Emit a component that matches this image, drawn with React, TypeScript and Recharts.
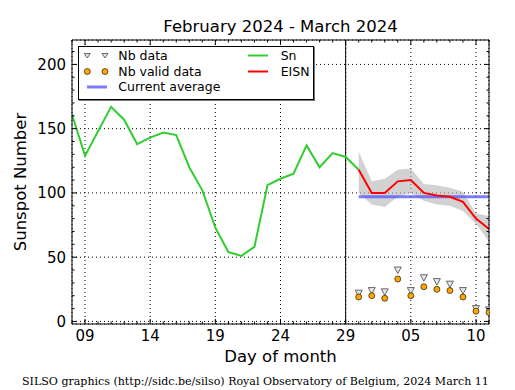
import React from 'react';
import {
  ComposedChart,
  Line,
  Area,
  Scatter,
  XAxis,
  YAxis,
  CartesianGrid,
  ReferenceLine,
} from 'recharts';

// Feb 08 .. Mar 11, one entry per day (index = position on the x axis)
const dayLabels = [
  '08', '09', '10', '11', '12', '13', '14', '15', '16', '17', '18', '19', '20', '21', '22',
  '23', '24', '25', '26', '27', '28', '29', '01', '02', '03', '04', '05', '06', '07', '08',
  '09', '10', '11',
];
const majorTicks = [1, 6, 11, 16, 21, 26, 31];
const yTicks = [0, 50, 100, 150, 200];

// daily Sn, Feb 08 .. Mar 01
const snValues = [161, 129, 148, 167, 157, 138, 143, 147, 145, 120, 102, 73, 54, 51, 58, 106, 111, 115, 137, 120, 131, 128, 118];

// estimated values, Mar 01 .. Mar 11
const eisnStart = 22;
const eisnValues = [118, 100, 100, 109, 110, 100, 98, 97, 93, 80, 72];
const eisnHigh = [132, 109, 111, 118, 119, 107, 106, 104, 101, 84, 82];
const eisnLow = [100, 91, 89, 97, 100, 94, 91, 90, 86, 76, 62];
const nbData = [22, 24, 23, 40, 24, 34, 31, 29, 24, 10, 9];
const nbValid = [19, 20, 18, 33, 20, 27, 25, 24, 19, 8, 7];
const currentAverage = 97;

const font = 'DejaVu Sans, sans-serif';

const rows = dayLabels.map((d, i) => {
  const j = i - eisnStart;
  const inEst = j >= 0 && j < eisnValues.length;
  return {
    x: i,
    day: d,
    sn: i < snValues.length ? snValues[i] : null,
    eisn: inEst ? eisnValues[j] : null,
    band: inEst ? [eisnLow[j], eisnHigh[j]] : null,
    avg: inEst ? currentAverage : null,
  };
});

const nbPoints = nbData.map((v, j) => ({ x: eisnStart + j, nb: v }));
const nbValidPoints = nbValid.map((v, j) => ({ x: eisnStart + j, nbv: v }));

const allDays = dayLabels.map((_, i) => i);
const minorY = Array.from({ length: 22 }, (_, i) => i * 10);

const Triangle = (props: any) => {
  const { cx, cy } = props;
  if (cx == null || cy == null) return null;
  return (
    <polygon
      points={`${cx - 3.5},${cy - 3} ${cx + 3.5},${cy - 3} ${cx},${cy + 3.5}`}
      fill="#e6e6e6"
      stroke="#444"
      strokeWidth={0.8}
    />
  );
};

const Dot = (props: any) => {
  const { cx, cy } = props;
  if (cx == null || cy == null) return null;
  return <circle cx={cx} cy={cy} r={3} fill="#ffa500" stroke="#000" strokeWidth={0.6} />;
};

// inward tick marks, long on the labelled values
const frameTick = (side: string, majors: number[]) => (props: any) => {
  const { x, y, payload } = props;
  const len = majors.includes(payload.value) ? 5 : 2.5;
  let x2 = x;
  let y2 = y;
  if (side === 'bottom') y2 = y - len;
  if (side === 'top') y2 = y + len;
  if (side === 'left') x2 = x + len;
  if (side === 'right') x2 = x - len;
  return <line x1={x} y1={y} x2={x2} y2={y2} stroke="#000" strokeWidth={1} />;
};

const LegendBox = () => {
  const text = (label: string, left: number, cy: number) => (
    <span
      style={{
        position: 'absolute',
        left,
        top: cy - 7.8,
        fontSize: 12.5,
        lineHeight: '16px',
        whiteSpace: 'nowrap',
      }}
    >
      {label}
    </span>
  );
  return (
    <div
      style={{
        position: 'absolute',
        left: 78,
        top: 46,
        width: 236,
        height: 54,
        boxSizing: 'border-box',
        border: '1px solid #000',
        boxShadow: '1px 1px 0 #777',
        background: '#fff',
        fontFamily: font,
        color: '#000',
      }}
    >
      <svg width={234} height={52} style={{ position: 'absolute', left: 0, top: 0 }}>
        <polygon points="5.3,6.5 11.3,6.5 8.3,11" fill="#e6e6e6" stroke="#444" strokeWidth={0.8} />
        <polygon points="23,6.5 29,6.5 26,11" fill="#e6e6e6" stroke="#444" strokeWidth={0.8} />
        <circle cx={8.3} cy={24.5} r={3} fill="#ffa500" stroke="#000" strokeWidth={0.6} />
        <circle cx={26} cy={24.5} r={3} fill="#ffa500" stroke="#000" strokeWidth={0.6} />
        <line x1={8} y1={40} x2={28} y2={40} stroke="#5a5aff" strokeOpacity={0.8} strokeWidth={3} />
        <line x1={169} y1={8.5} x2={189} y2={8.5} stroke="#33cc33" strokeWidth={2} />
        <line x1={169} y1={24.5} x2={189} y2={24.5} stroke="#ff0000" strokeWidth={2} />
      </svg>
      {text('Nb data', 39.3, 8.5)}
      {text('Nb valid data', 39.3, 24.5)}
      {text('Current average', 39.3, 40)}
      {text('Sn', 201.7, 8.5)}
      {text('EISN', 201.7, 24.5)}
    </div>
  );
};

export default function App() {
  const domainX: [number, number] = [0, 32];
  const domainY: [number, number] = [-2, 219];
  return (
    <div
      style={{
        position: 'absolute',
        left: 0,
        top: 0,
        width: 515,
        height: 390,
        background: '#fff',
        fontFamily: font,
        color: '#000',
      }}
    >
      <div
        style={{
          position: 'absolute',
          left: 72,
          top: 17,
          width: 417,
          textAlign: 'center',
          fontSize: 16.5,
          lineHeight: '20px',
        }}
      >
        February 2024 - March 2024
      </div>

      <ComposedChart
        width={515}
        height={390}
        data={rows}
        margin={{ top: 40, right: 26, bottom: 36, left: 0 }}
      >
        <CartesianGrid
          xAxisId="x"
          yAxisId="y"
          stroke="#000"
          strokeDasharray="1 3"
          strokeWidth={1}
        />
        <XAxis
          xAxisId="x"
          dataKey="x"
          type="number"
          domain={domainX}
          allowDataOverflow
          ticks={majorTicks}
          interval={0}
          tickFormatter={(v: number) => dayLabels[v]}
          tickLine={false}
          axisLine={false}
          tickSize={0}
          tickMargin={6}
          height={30}
          tick={{ fontSize: 15, fill: '#000', fontFamily: font }}
        />
        <XAxis
          xAxisId="frameBottom"
          dataKey="x"
          type="number"
          orientation="bottom"
          mirror
          domain={domainX}
          allowDataOverflow
          ticks={allDays}
          interval={0}
          tickLine={false}
          tickSize={0}
          tickMargin={0}
          axisLine={{ stroke: '#000', strokeWidth: 1 }}
          tick={frameTick('bottom', majorTicks)}
        />
        <XAxis
          xAxisId="frameTop"
          dataKey="x"
          type="number"
          orientation="top"
          mirror
          domain={domainX}
          allowDataOverflow
          ticks={allDays}
          interval={0}
          tickLine={false}
          tickSize={0}
          tickMargin={0}
          axisLine={{ stroke: '#000', strokeWidth: 1 }}
          tick={frameTick('top', majorTicks)}
        />
        <YAxis
          yAxisId="y"
          type="number"
          domain={domainY}
          allowDataOverflow
          ticks={yTicks}
          interval={0}
          width={72}
          tickLine={false}
          axisLine={false}
          tickSize={0}
          tickMargin={6}
          tick={{ fontSize: 15, fill: '#000', fontFamily: font }}
        />
        <YAxis
          yAxisId="frameLeft"
          type="number"
          orientation="left"
          mirror
          domain={domainY}
          allowDataOverflow
          ticks={minorY}
          interval={0}
          tickLine={false}
          tickSize={0}
          tickMargin={0}
          axisLine={{ stroke: '#000', strokeWidth: 1 }}
          tick={frameTick('left', yTicks)}
        />
        <YAxis
          yAxisId="frameRight"
          type="number"
          orientation="right"
          mirror
          domain={domainY}
          allowDataOverflow
          ticks={minorY}
          interval={0}
          tickLine={false}
          tickSize={0}
          tickMargin={0}
          axisLine={{ stroke: '#000', strokeWidth: 1 }}
          tick={frameTick('right', yTicks)}
        />

        <ReferenceLine xAxisId="x" yAxisId="y" x={21} stroke="#000" strokeWidth={1} />

        <Area
          xAxisId="x"
          yAxisId="y"
          dataKey="band"
          type="linear"
          stroke="none"
          fill="#b4b4b4"
          fillOpacity={0.6}
          isAnimationActive={false}
        />
        <Scatter
          xAxisId="x"
          yAxisId="y"
          data={nbPoints}
          dataKey="nb"
          shape={Triangle}
          isAnimationActive={false}
        />
        <Scatter
          xAxisId="x"
          yAxisId="y"
          data={nbValidPoints}
          dataKey="nbv"
          shape={Dot}
          isAnimationActive={false}
        />
        <Line
          xAxisId="x"
          yAxisId="y"
          dataKey="avg"
          type="linear"
          stroke="#5a5aff"
          strokeOpacity={0.8}
          strokeWidth={3}
          dot={false}
          isAnimationActive={false}
        />
        <Line
          xAxisId="x"
          yAxisId="y"
          dataKey="sn"
          type="linear"
          stroke="#33cc33"
          strokeWidth={2}
          dot={false}
          isAnimationActive={false}
        />
        <Line
          xAxisId="x"
          yAxisId="y"
          dataKey="eisn"
          type="linear"
          stroke="#ff0000"
          strokeWidth={2}
          dot={false}
          isAnimationActive={false}
        />
      </ComposedChart>

      <LegendBox />

      <div
        style={{
          position: 'absolute',
          left: -79,
          top: 172,
          width: 200,
          height: 20,
          textAlign: 'center',
          fontSize: 16.5,
          lineHeight: '20px',
          transform: 'rotate(-90deg)',
          whiteSpace: 'nowrap',
        }}
      >
        Sunspot Number
      </div>
      <div
        style={{
          position: 'absolute',
          left: 72,
          top: 347,
          width: 417,
          textAlign: 'center',
          fontSize: 16.5,
          lineHeight: '20px',
        }}
      >
        Day of month
      </div>
      <div
        style={{
          position: 'absolute',
          left: 22,
          top: 375,
          fontFamily: 'DejaVu Serif, serif',
          fontSize: 11.05,
          lineHeight: '14px',
          whiteSpace: 'nowrap',
        }}
      >
        SILSO graphics (http://sidc.be/silso) Royal Observatory of Belgium, 2024 March 11
      </div>
    </div>
  );
}
